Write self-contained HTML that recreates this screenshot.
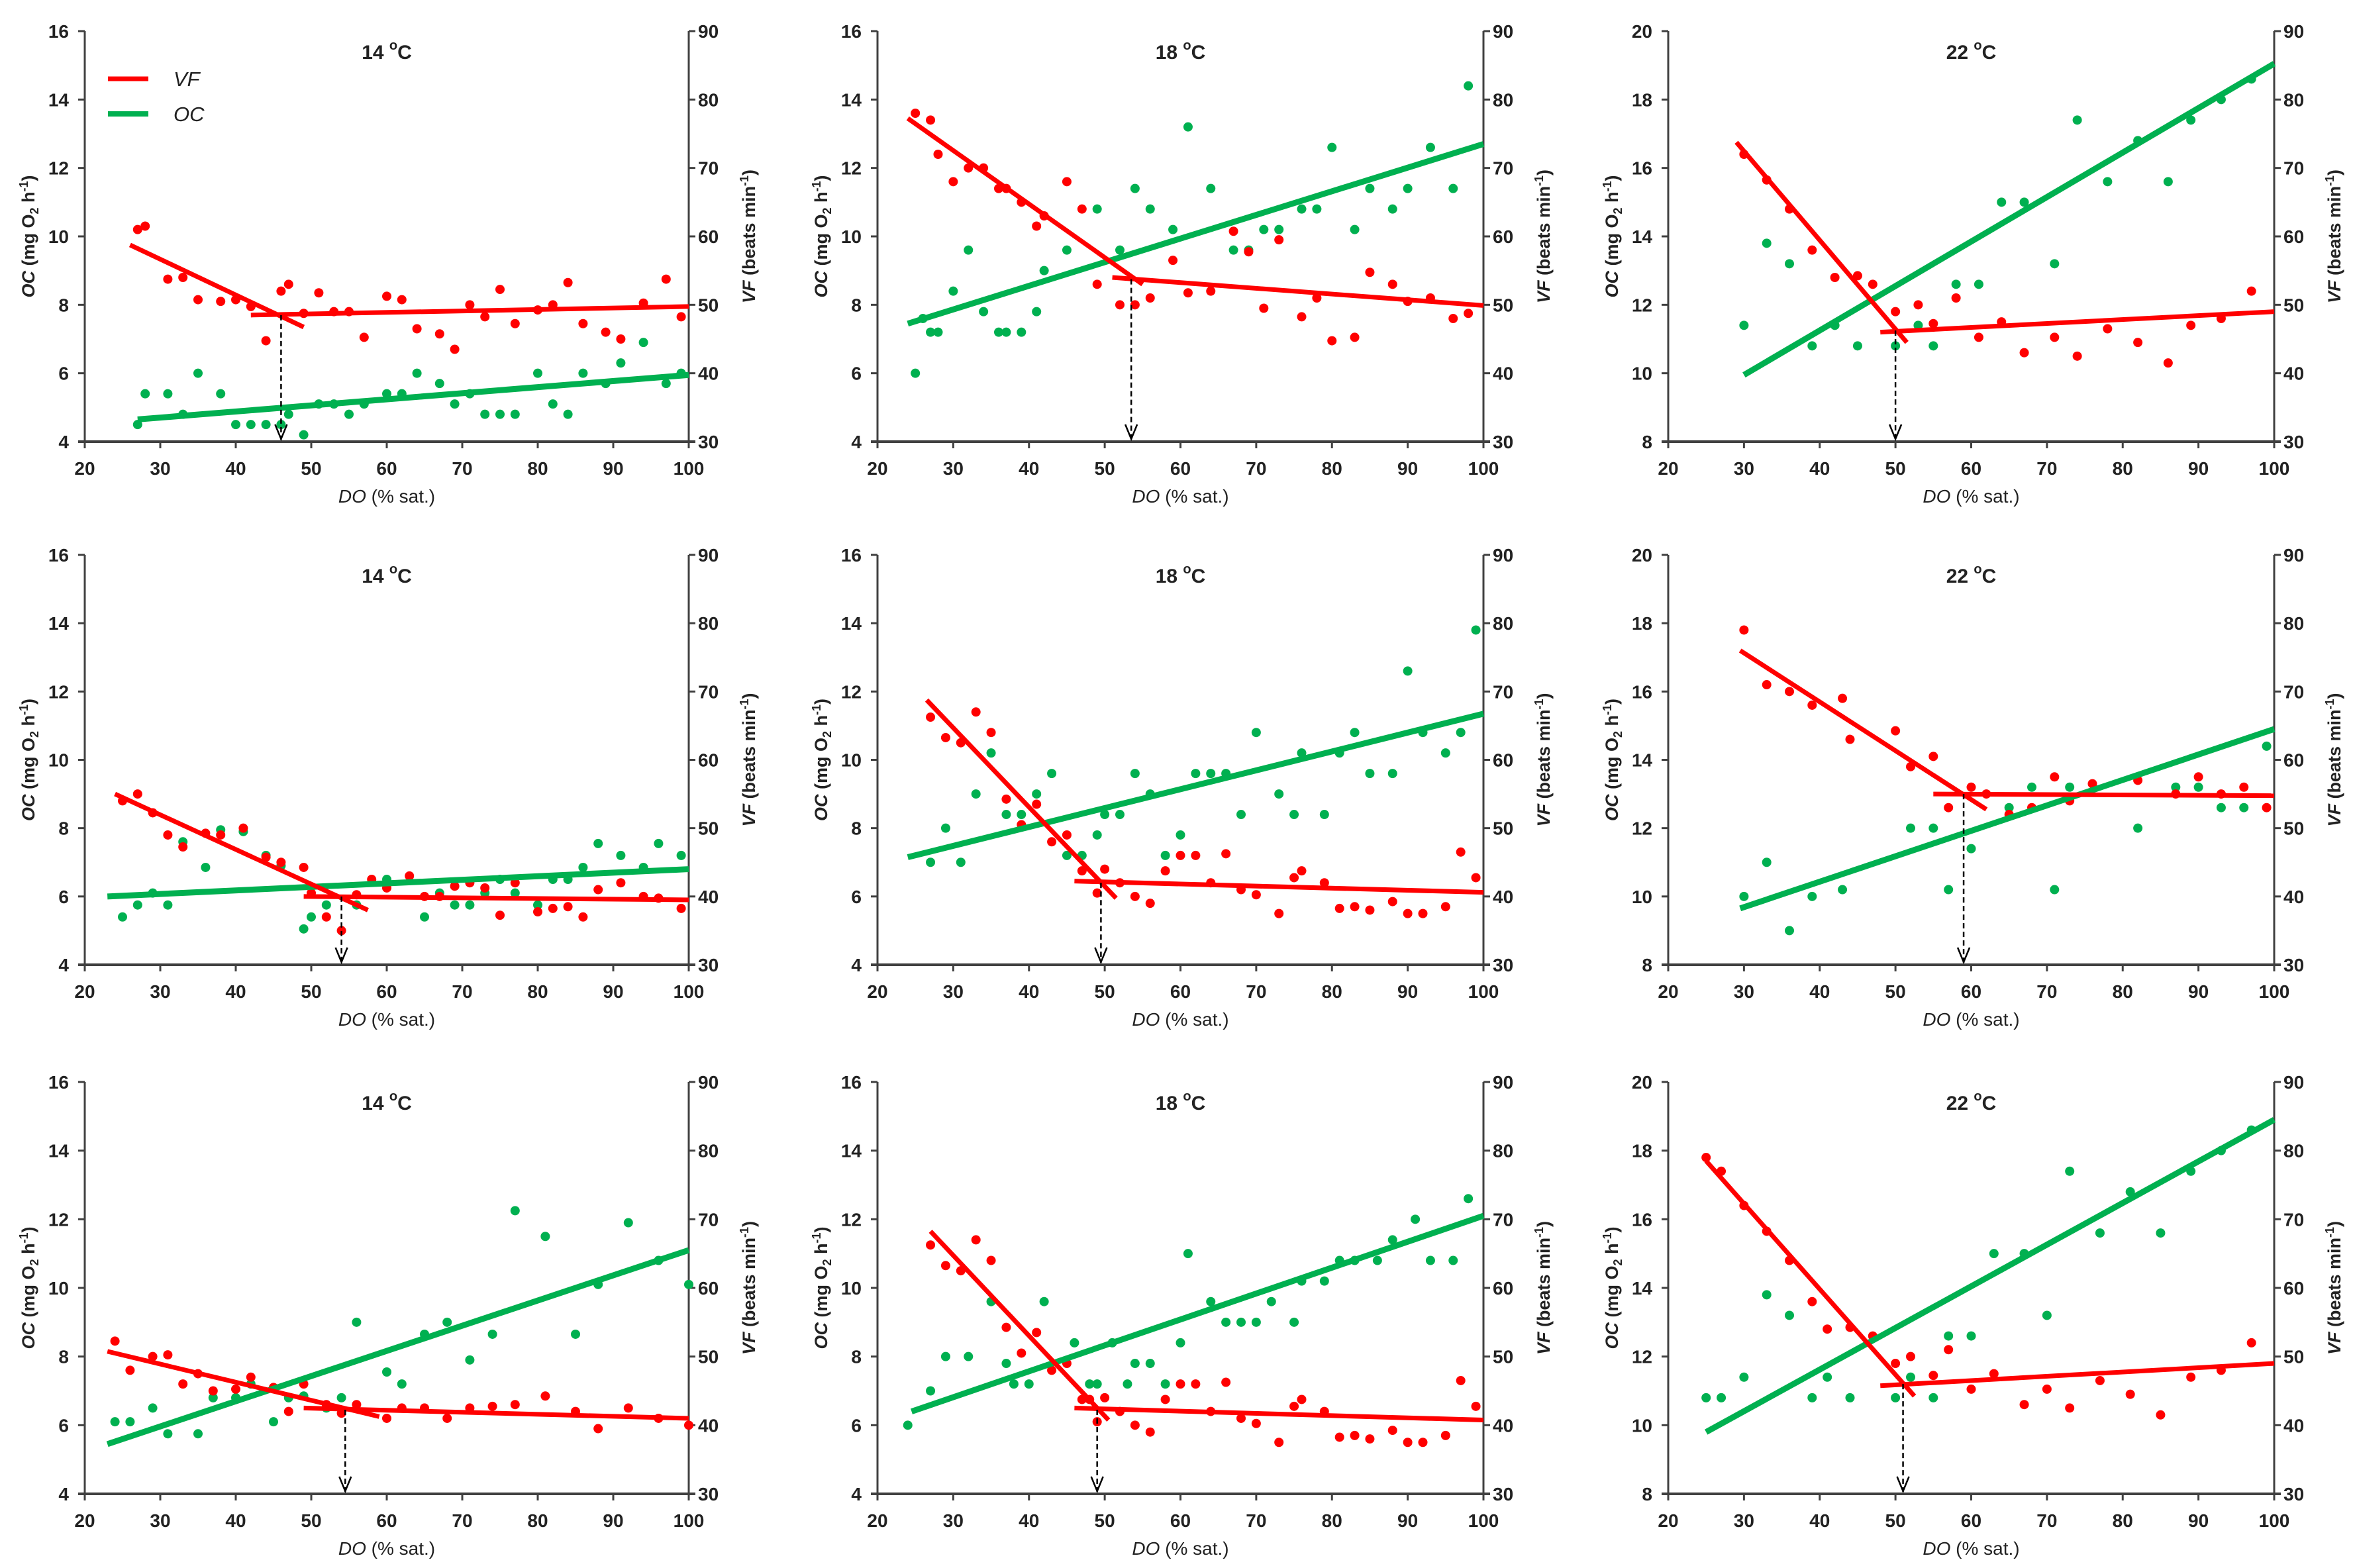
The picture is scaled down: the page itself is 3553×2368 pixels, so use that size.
<!DOCTYPE html>
<html><head><meta charset="utf-8"><title>OC and VF vs DO</title>
<style>
html,body{margin:0;padding:0;background:#fff;}
svg{display:block;}
text{font-family:"Liberation Sans",Arial,sans-serif;fill:#222;}
</style></head>
<body>
<svg id="fig" xmlns="http://www.w3.org/2000/svg" width="3553" height="2368" viewBox="0 0 3553 2368"></svg>
<script>
// ---------- DATA (top level) ----------
const panelTitles = ["14", "18", "22", "14", "18", "22", "14", "18", "22"];
const ocMin = [4, 4, 8, 4, 4, 8, 4, 4, 8];
const ocMax = [16, 16, 20, 16, 16, 20, 16, 16, 20];
const ocTicks4 = [4, 6, 8, 10, 12, 14, 16];
const ocTicks8 = [8, 10, 12, 14, 16, 18, 20];
const vfTicks = [30, 40, 50, 60, 70, 80, 90];
const doTicks = [20, 30, 40, 50, 60, 70, 80, 90, 100];

// Panel 1
const p1VfDO = [27,28,31,33,35,38,40,42,44,46,47,49,51,53,55,57,60,62,64,67,69,71,73,75,77,80,82,84,86,89,91,94,97,99];
const p1Vf = [61,61.5,53.75,54,50.75,50.5,50.75,49.75,44.75,52,53,48.75,51.75,49,49,45.25,51.25,50.75,46.5,45.75,43.5,50,48.25,52.25,47.25,49.25,50,53.25,47.25,46,45,50.25,53.75,48.25];
const p1OcDO = [27,28,31,33,35,38,40,42,44,46,47,49,51,53,55,57,60,62,64,67,69,71,73,75,77,80,82,84,86,89,91,94,97,99];
const p1Oc = [4.5,5.4,5.4,4.8,6.0,5.4,4.5,4.5,4.5,4.5,4.8,4.2,5.1,5.1,4.8,5.1,5.4,5.4,6.0,5.7,5.1,5.4,4.8,4.8,4.8,6.0,5.1,4.8,6.0,5.7,6.3,6.9,5.7,6.0];
const p1VfFit1 = [[26,58.75],[49,46.75]];
const p1VfFit2 = [[42,48.5],[100,49.75]];
const p1OcFit = [[27,4.65],[100,5.95]];
const p1Break = [46, 48.5];

// Panel 2
const p2VfDO = [25,27,28,30,32,34,36,37,39,41,42,45,47,49,52,54,56,59,61,64,67,69,71,73,76,78,80,83,85,88,90,93,96,98];
const p2Vf = [78,77,72,68,70,70,67,67,65,61.5,63,68,64,53,50,50,51,56.5,51.75,52,60.75,57.75,49.5,59.5,48.25,51,44.75,45.25,54.75,53,50.5,51,48,48.75];
const p2OcDO = [25,26,27,28,30,32,34,36,37,39,41,42,45,49,52,54,56,59,61,64,67,69,71,73,76,78,80,83,85,88,90,93,96,98];
const p2Oc = [6.0,7.6,7.2,7.2,8.4,9.6,7.8,7.2,7.2,7.2,7.8,9.0,9.6,10.8,9.6,11.4,10.8,10.2,13.2,11.4,9.6,9.6,10.2,10.2,10.8,10.8,12.6,10.2,11.4,10.8,11.4,12.6,11.4,14.4];
const p2VfFit1 = [[24,77.25],[55,53]];
const p2VfFit2 = [[51,54],[100,49.9]];
const p2OcFit = [[24,7.45],[100,12.7]];
const p2Break = [53.5, 53.75];

// Panel 3
const p3VfDO = [30,33,36,39,42,45,47,50,53,55,58,61,64,67,71,74,78,82,86,89,93,97];
const p3Vf = [72,68.25,64,58,54,54.25,53,49,50,47.25,51,45.25,47.5,43,45.25,42.5,46.5,44.5,41.5,47,48,52];
const p3OcDO = [30,33,36,39,42,45,50,53,55,58,61,64,67,71,74,78,82,86,89,93,97];
const p3Oc = [11.4,13.8,13.2,10.8,11.4,10.8,10.8,11.4,10.8,12.6,12.6,15.0,15.0,13.2,17.4,15.6,16.8,15.6,17.4,18.0,18.6];
const p3VfFit1 = [[29,73.75],[51.5,44.5]];
const p3VfFit2 = [[48,46],[100,49]];
const p3OcFit = [[30,9.95],[100,19.05]];
const p3Break = [50, 46.25];

// Panel 4
const p4VfDO = [25,27,29,31,33,36,38,41,44,46,49,50,52,54,56,58,60,63,65,67,69,71,73,75,77,80,82,84,86,88,91,94,96,99];
const p4Vf = [54,55,52.25,49,47.25,49.25,49,50,45.75,45,44.25,40.5,37,35,40.25,42.5,41.25,43,40,40,41.5,42,41.25,37.25,42,37.75,38.25,38.5,37,41,42,40,39.75,38.25];
const p4OcDO = [25,27,29,31,33,36,38,41,44,46,49,50,52,56,60,65,67,69,71,73,75,77,80,82,84,86,88,91,94,96,99];
const p4Oc = [5.4,5.75,6.1,5.75,7.6,6.85,7.95,7.9,7.2,6.9,5.05,5.4,5.75,5.75,6.5,5.4,6.1,5.75,5.75,6.1,6.5,6.1,5.75,6.5,6.5,6.85,7.55,7.2,6.85,7.55,7.2];
const p4VfFit1 = [[24,55],[57.5,38]];
const p4VfFit2 = [[49,40],[100,39.5]];
const p4OcFit = [[23,6.0],[100,6.8]];
const p4Break = [54, 40];

// Panel 5
const p5VfDO = [27,29,31,33,35,37,39,41,43,45,47,49,50,52,54,56,58,60,62,64,66,68,70,73,75,76,79,81,83,85,88,90,92,95,97,99];
const p5Vf = [66.25,63.25,62.5,67,64,54.25,50.5,53.5,48,49,43.75,40.5,44,42,40,39,43.75,46,46,42,46.25,41,40.25,37.5,42.75,43.75,42,38.25,38.5,38,39.25,37.5,37.5,38.5,46.5,42.75];
const p5OcDO = [27,29,31,33,35,37,39,41,43,45,47,49,50,52,54,56,58,60,62,64,66,68,70,73,75,76,79,81,83,85,88,90,92,95,97,99];
const p5Oc = [7.0,8.0,7.0,9.0,10.2,8.4,8.4,9.0,9.6,7.2,7.2,7.8,8.4,8.4,9.6,9.0,7.2,7.8,9.6,9.6,9.6,8.4,10.8,9.0,8.4,10.2,8.4,10.2,10.8,9.6,9.6,12.6,10.8,10.2,10.8,13.8];
const p5VfFit1 = [[26.5,68.75],[51.5,39.75]];
const p5VfFit2 = [[46,42.25],[100,40.6]];
const p5OcFit = [[24,7.15],[100,11.35]];
const p5Break = [49.5, 42];

// Panel 6
const p6VfDO = [30,33,36,39,43,44,50,52,55,57,60,62,65,68,71,73,76,82,87,90,93,96,99];
const p6Vf = [79,71,70,68,69,63,64.25,59,60.5,53,56,55,52,53,57.5,54,56.5,57,55,57.5,55,56,53];
const p6OcDO = [30,33,36,39,43,52,55,57,60,65,68,71,73,82,87,90,93,96,99];
const p6Oc = [10.0,11.0,9.0,10.0,10.2,12.0,12.0,10.2,11.4,12.6,13.2,10.2,13.2,12.0,13.2,13.2,12.6,12.6,14.4];
const p6VfFit1 = [[29.5,76],[62,52.75]];
const p6VfFit2 = [[55,55],[100,54.75]];
const p6OcFit = [[29.5,9.65],[100,14.9]];
const p6Break = [59, 55];

// Panel 7
const p7VfDO = [24,26,29,31,33,35,37,40,42,45,47,49,52,54,56,60,62,65,68,71,74,77,81,85,88,92,96,100];
const p7Vf = [52.25,48,50,50.25,46,47.5,45,45.25,47,45.5,42,46,43,41.75,43,41,42.5,42.5,41,42.5,42.75,43,44.25,42,39.5,42.5,41,40];
const p7OcDO = [24,26,29,31,35,37,40,42,45,47,49,52,54,56,60,62,65,68,71,74,77,81,85,88,92,96,100];
const p7Oc = [6.1,6.1,6.5,5.75,5.75,6.8,6.8,7.2,6.1,6.8,6.85,6.5,6.8,9.0,7.55,7.2,8.65,9.0,7.9,8.65,12.25,11.5,8.65,10.1,11.9,10.8,10.1];
const p7VfFit1 = [[23,50.75],[59,41.25]];
const p7VfFit2 = [[49,42.5],[100,41]];
const p7OcFit = [[23,5.45],[100,11.1]];
const p7Break = [54.5, 42.25];

// Panel 8
const p8VfDO = [27,29,31,33,35,37,39,41,43,45,47,48,49,50,52,54,56,58,60,62,64,66,68,70,73,75,76,79,81,83,85,88,90,92,95,97,99];
const p8Vf = [66.25,63.25,62.5,67,64,54.25,50.5,53.5,48,49,43.75,43.75,40.5,44,42,40,39,43.75,46,46,42,46.25,41,40.25,37.5,42.75,43.75,42,38.25,38.5,38,39.25,37.5,37.5,38.5,46.5,42.75];
const p8OcDO = [24,27,29,32,35,37,38,40,42,46,48,49,51,53,54,56,58,60,61,64,66,68,70,72,75,76,79,81,83,86,88,91,93,96,98];
const p8Oc = [6.0,7.0,8.0,8.0,9.6,7.8,7.2,7.2,9.6,8.4,7.2,7.2,8.4,7.2,7.8,7.8,7.2,8.4,11.0,9.6,9.0,9.0,9.0,9.6,9.0,10.2,10.2,10.8,10.8,10.8,11.4,12.0,10.8,10.8,12.6];
const p8VfFit1 = [[27,68.25],[50.5,40.75]];
const p8VfFit2 = [[46,42.5],[100,40.75]];
const p8OcFit = [[24.5,6.4],[100,12.1]];
const p8Break = [49, 42.25];

// Panel 9
const p9VfDO = [25,27,30,33,36,39,41,44,47,50,52,55,57,60,63,67,70,73,77,81,85,89,93,97];
const p9Vf = [79,77,72,68.25,64,58,54,54.25,53,49,50,47.25,51,45.25,47.5,43,45.25,42.5,46.5,44.5,41.5,47,48,52];
const p9OcDO = [25,27,30,33,36,39,41,44,50,52,55,57,60,63,67,70,73,77,81,85,89,93,97];
const p9Oc = [10.8,10.8,11.4,13.8,13.2,10.8,11.4,10.8,10.8,11.4,10.8,12.6,12.6,15.0,15.0,13.2,17.4,15.6,16.8,15.6,17.4,18.0,18.6];
const p9VfFit1 = [[25,78.5],[52.5,44.25]];
const p9VfFit2 = [[48,45.75],[100,49]];
const p9OcFit = [[25,9.8],[100,18.9]];
const p9Break = [51, 46];

// ---------- LAYOUT ----------
const colLeft = [128, 1325, 2519];
const colRight = [1040, 2240, 3434];
const rowTop = [47, 838, 1634];
const rowBottom = [667, 1457, 2256];
const RED = "#ff0000", GREEN = "#00b050", AX = "#404040";
const NS = "http://www.w3.org/2000/svg";
const svg = document.getElementById("fig");

function mk(tag, attrs, parent) {
  const e = document.createElementNS(NS, tag);
  for (const k in attrs) e.setAttribute(k, attrs[k]);
  (parent || svg).appendChild(e);
  return e;
}

const panels = [
  [p1VfDO,p1Vf,p1OcDO,p1Oc,p1VfFit1,p1VfFit2,p1OcFit,p1Break],
  [p2VfDO,p2Vf,p2OcDO,p2Oc,p2VfFit1,p2VfFit2,p2OcFit,p2Break],
  [p3VfDO,p3Vf,p3OcDO,p3Oc,p3VfFit1,p3VfFit2,p3OcFit,p3Break],
  [p4VfDO,p4Vf,p4OcDO,p4Oc,p4VfFit1,p4VfFit2,p4OcFit,p4Break],
  [p5VfDO,p5Vf,p5OcDO,p5Oc,p5VfFit1,p5VfFit2,p5OcFit,p5Break],
  [p6VfDO,p6Vf,p6OcDO,p6Oc,p6VfFit1,p6VfFit2,p6OcFit,p6Break],
  [p7VfDO,p7Vf,p7OcDO,p7Oc,p7VfFit1,p7VfFit2,p7OcFit,p7Break],
  [p8VfDO,p8Vf,p8OcDO,p8Oc,p8VfFit1,p8VfFit2,p8OcFit,p8Break],
  [p9VfDO,p9Vf,p9OcDO,p9Oc,p9VfFit1,p9VfFit2,p9OcFit,p9Break]
];

panels.forEach((P, i) => {
  const L = colLeft[i % 3], R = colRight[i % 3], T = rowTop[Math.floor(i / 3)], B = rowBottom[Math.floor(i / 3)];
  const omin = ocMin[i], omax = ocMax[i];
  const xS = v => L + (v - 20) / 80 * (R - L);
  const yOC = v => B - (v - omin) / (omax - omin) * (B - T);
  const yVF = v => B - (v - 30) / 60 * (B - T);
  const g = mk("g", {});
  
  

  // axes
  const la = mk("line", {x1:L, y1:T, x2:L, y2:B, stroke:AX, "stroke-width":3}, g);
  
  
  const ra = mk("line", {x1:R, y1:T, x2:R, y2:B, stroke:AX, "stroke-width":3}, g);
  
  
  const xa = mk("line", {x1:L - 10, y1:B, x2:R + 10, y2:B, stroke:AX, "stroke-width":4}, g);
  
  

  const oTicks = omin === 4 ? ocTicks4 : ocTicks8;
  oTicks.forEach(t => {
    const y = yOC(t);
    mk("line", {x1:L - 10, y1:y, x2:L, y2:y, stroke:AX, "stroke-width":3}, g);
    const tx = mk("text", {x:L - 24, y:y + 10, "text-anchor":"end", "font-size":28, "font-weight":"bold"}, g);
    tx.textContent = t;
    
    
  });
  vfTicks.forEach(t => {
    const y = yVF(t);
    mk("line", {x1:R, y1:y, x2:R + 10, y2:y, stroke:AX, "stroke-width":3}, g);
    const tx = mk("text", {x:R + 14, y:y + 10, "text-anchor":"start", "font-size":28, "font-weight":"bold"}, g);
    tx.textContent = t;
    
    
  });
  doTicks.forEach(t => {
    const x = xS(t);
    mk("line", {x1:x, y1:B, x2:x, y2:B + 10, stroke:AX, "stroke-width":3}, g);
    const tx = mk("text", {x:x, y:B + 50, "text-anchor":"middle", "font-size":28, "font-weight":"bold"}, g);
    tx.textContent = t;
    
    
  });

  // axis titles
  const cy = (T + B) / 2;
  const lt = mk("text", {x:0, y:0, "text-anchor":"middle", "font-size":27, "font-weight":"bold", transform:`translate(${L - 76},${cy}) rotate(-90)`}, g);
  lt.innerHTML = '<tspan font-style="italic">OC</tspan> (mg O<tspan font-size="18" dy="6">2</tspan><tspan dy="-6"> h</tspan><tspan font-size="18" dy="-10">-1</tspan><tspan dy="10">)</tspan>';
  
  
  const rt = mk("text", {x:0, y:0, "text-anchor":"middle", "font-size":27, "font-weight":"bold", transform:`translate(${R + 100},${cy}) rotate(-90)`}, g);
  rt.innerHTML = '<tspan font-style="italic">VF</tspan> (beats min<tspan font-size="18" dy="-10">-1</tspan><tspan dy="10">)</tspan>';
  
  
  const xt = mk("text", {x:(L + R) / 2, y:B + 92, "text-anchor":"middle", "font-size":28}, g);
  xt.innerHTML = '<tspan font-style="italic">DO</tspan> (% sat.)';
  
  

  // panel title
  const tt = mk("text", {x:xS(60), y:T + 42, "text-anchor":"middle", "font-size":30, "font-weight":"bold"}, g);
  tt.innerHTML = panelTitles[i] + ' <tspan font-size="20" dy="-14">o</tspan><tspan dy="14">C</tspan>';
  
  

  const [vfDO, vf, ocDO, oc, f1, f2, fo, br] = P;
  // dots
  ocDO.forEach((d, k) => {
    const c = mk("circle", {cx:xS(d), cy:yOC(oc[k]), r:7, fill:GREEN}, g);
    
    
  });
  vfDO.forEach((d, k) => {
    const c = mk("circle", {cx:xS(d), cy:yVF(vf[k]), r:7, fill:RED}, g);
    
    
  });
  // fit lines
  const ol = mk("line", {x1:xS(fo[0][0]), y1:yOC(fo[0][1]), x2:xS(fo[1][0]), y2:yOC(fo[1][1]), stroke:GREEN, "stroke-width":9}, g);
  
  
  [f1, f2].forEach(f => {
    const l = mk("line", {x1:xS(f[0][0]), y1:yVF(f[0][1]), x2:xS(f[1][0]), y2:yVF(f[1][1]), stroke:RED, "stroke-width":7}, g);
    
    
  });
  // breakpoint arrow
  const bx = xS(br[0]), by = yVF(br[1]);
  const al = mk("line", {x1:bx, y1:by, x2:bx, y2:B - 3, stroke:"#000", "stroke-width":2.5, "stroke-dasharray":"8,5"}, g);
  
  
  const ah = mk("polyline", {points:`${bx - 9},${B - 26} ${bx},${B - 4} ${bx + 9},${B - 26}`, fill:"none", stroke:"#000", "stroke-width":2.5}, g);
  
  

  // legend in first panel
  if (i === 0) {
    const lg = mk("g", {}, g);
    
    
    mk("line", {x1:163, y1:119, x2:224, y2:119, stroke:RED, "stroke-width":7}, lg);
    const t1 = mk("text", {x:262, y:130, "font-size":31, "font-style":"italic"}, lg);
    t1.textContent = "VF";
    
    
    mk("line", {x1:163, y1:172, x2:224, y2:172, stroke:GREEN, "stroke-width":8}, lg);
    const t2 = mk("text", {x:262, y:183, "font-size":31, "font-style":"italic"}, lg);
    t2.textContent = "OC";
    
    
  }
});
</script>
</body></html>
